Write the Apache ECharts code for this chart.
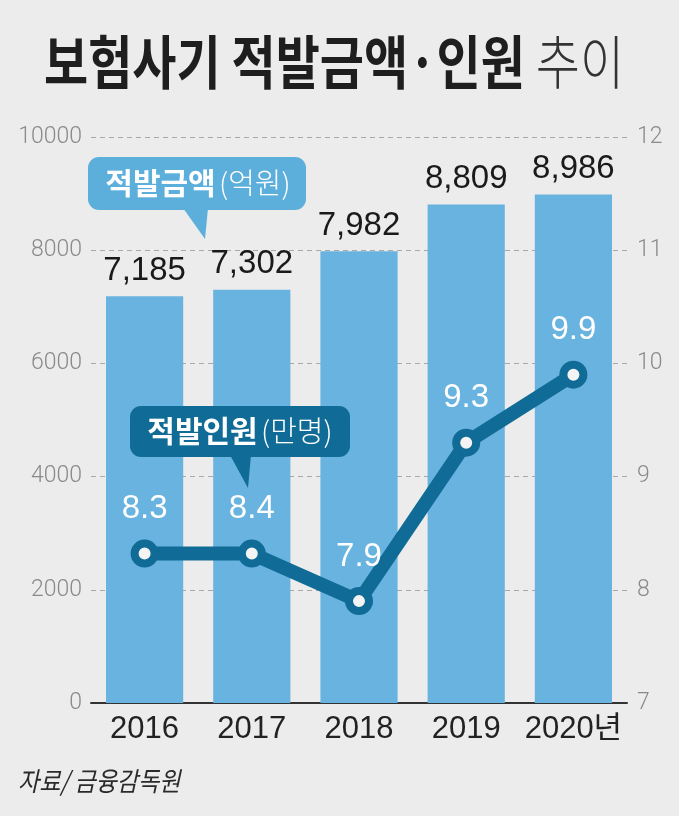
<!DOCTYPE html>
<html>
<head>
<meta charset="utf-8">
<script src="https://cdn.jsdelivr.net/npm/echarts@6/dist/echarts.min.js"></script>
<style>
html,body{margin:0;padding:0;background:#ececec;}
#c{width:679px;height:816px;}
</style>
</head>
<body>
<div id="c"></div>
<script>
const years = ['2016', '2017', '2018', '2019', '2020년'];
const amounts = [7185, 7302, 7982, 8809, 8986];          // 적발금액 (억원)
const people = [8.32, 8.32, 7.90, 9.30, 9.90];           // 적발인원 (만명), as plotted
const peopleLabels = ['8.3', '8.4', '7.9', '9.3', '9.9'];
const leftTicks = { min: 0, max: 10000, interval: 2000 };
const rightTicks = { min: 7, max: 12, interval: 1 };

const chart = echarts.init(document.getElementById('c'));
const numFont = '"Liberation Sans", Arial, sans-serif';
const krFont = '"Noto Sans CJK KR", "Noto Sans", sans-serif';

chart.setOption({
  backgroundColor: '#ececec',
  animation: false,
  grid: { left: 91, right: 52, top: 137, bottom: 113 },
  xAxis: {
    type: 'category',
    data: years,
    axisLine: { lineStyle: { color: '#333', width: 2 } },
    axisTick: { show: false },
    axisLabel: { interval: 0, color: '#222', fontSize: 31, fontFamily: numFont + ',' + krFont, margin: 11 }
  },
  yAxis: [
    {
      type: 'value', min: leftTicks.min, max: leftTicks.max, interval: leftTicks.interval,
      axisLine: { show: false }, axisTick: { show: false },
      axisLabel: { color: '#8a8a8a', fontSize: 23, fontFamily: 'Roboto, ' + numFont, fontWeight: 300, margin: 9,
        formatter: v => String(v) },
      splitLine: { lineStyle: { color: '#a8a8a8', type: [5, 4], width: 1 } }
    },
    {
      type: 'value', min: rightTicks.min, max: rightTicks.max, interval: rightTicks.interval,
      axisLine: { show: false }, axisTick: { show: false },
      axisLabel: { color: '#8a8a8a', fontSize: 23, fontFamily: 'Roboto, ' + numFont, fontWeight: 300, margin: 10 },
      splitLine: { show: false }
    }
  ],
  series: [
    {
      type: 'bar',
      data: amounts,
      barWidth: '72%',
      itemStyle: { color: '#68b3df' },
      label: {
        show: true, position: 'top', distance: 9,
        color: '#1a1a1a', fontSize: 33, fontFamily: numFont,
        formatter: p => p.value.toLocaleString('en-US')
      },
      z: 2
    },
    {
      type: 'line',
      yAxisIndex: 1,
      data: people,
      symbol: 'circle',
      symbolSize: 20,
      lineStyle: { color: '#106c96', width: 14 },
      itemStyle: { color: '#f4f4f4', borderColor: '#106c96', borderWidth: 8 },
      label: {
        show: true, position: 'top', distance: 14,
        color: '#ffffff', fontSize: 33, fontFamily: numFont,
        formatter: p => peopleLabels[p.dataIndex]
      },
      z: 5
    }
  ],
  graphic: [
    {
      type: 'text', left: 44, top: 33, scaleY: 1.2, z: 100,
      style: {
        text: '{b|보험사기 적발금액·인원 }{l|추이}',
        rich: {
          b: { fontSize: 48, fontWeight: 'bold', fontFamily: krFont, fill: '#1e1e1e' },
          l: { fontSize: 48, fontWeight: 300, fontFamily: krFont, fill: '#333' }
        }
      }
    },
    { type: 'rect', z: 100, shape: { x: 88, y: 157, width: 218, height: 53, r: 11 }, style: { fill: '#5caedb' } },
    { type: 'polygon', z: 100, shape: { points: [[183, 208], [208, 208], [205, 239]] }, style: { fill: '#5caedb' } },
    {
      type: 'text', z: 101, x: 198, y: 183,
      style: {
        text: '{b|적발금액} {r|(억원)}', align: 'center', verticalAlign: 'middle',
        rich: {
          b: { fontSize: 30, fontWeight: 'bold', fontFamily: krFont, fill: '#fff' },
          r: { fontSize: 29, fontWeight: 300, fontFamily: krFont, fill: '#fff' }
        }
      }
    },
    { type: 'rect', z: 100, shape: { x: 130, y: 406, width: 220, height: 51, r: 11 }, style: { fill: '#106c96' } },
    { type: 'polygon', z: 100, shape: { points: [[230, 455], [251, 455], [248, 488]] }, style: { fill: '#106c96' } },
    {
      type: 'text', z: 101, x: 240, y: 431,
      style: {
        text: '{b|적발인원} {r|(만명)}', align: 'center', verticalAlign: 'middle',
        rich: {
          b: { fontSize: 30, fontWeight: 'bold', fontFamily: krFont, fill: '#fff' },
          r: { fontSize: 29, fontWeight: 300, fontFamily: krFont, fill: '#fff' }
        }
      }
    },
    {
      type: 'text', left: 18, top: 768, scaleY: 1.15, z: 100,
      style: { text: '자료/ 금융감독원', fontSize: 23, fontStyle: 'italic', fontFamily: krFont, fill: '#2a2a2a' }
    }
  ]
});
</script>
</body>
</html>
